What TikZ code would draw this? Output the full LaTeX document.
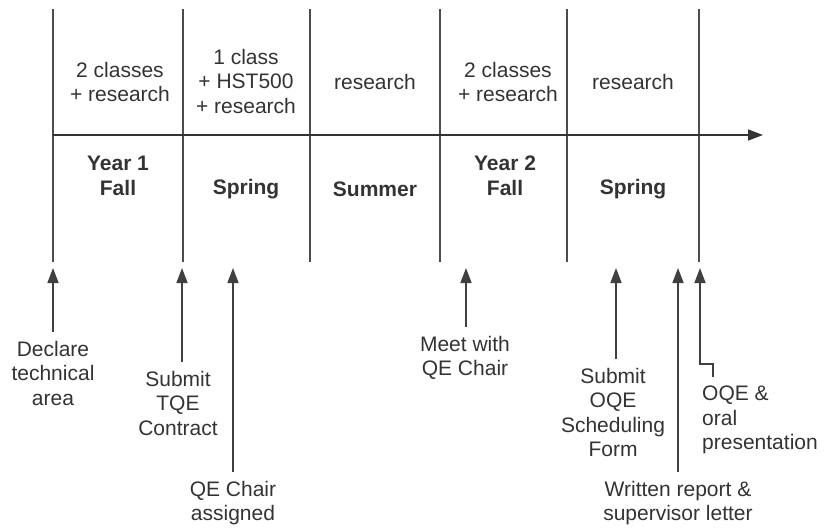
\documentclass[tikz,border=0pt]{standalone}
\usepackage{fontspec}
\setmainfont{Liberation Sans}
\usepackage{tikz}
\usetikzlibrary{positioning,arrows.meta}

\begin{document}
\begin{tikzpicture}[
    x=1pt, y=-1pt,
    font=\fontsize{21}{24.5}\selectfont,
    txt/.style={text=black!80, align=center, inner sep=0pt},
    term/.style={txt, font=\fontsize{21}{24.5}\selectfont\bfseries},
    evt/.style={txt, anchor=north},
    sep/.style={draw=black!70, line width=1.5pt},
    arr/.style={-{Triangle[width=11pt,length=15pt]}, draw=black!75, line width=1.6pt, shorten <=9pt}
  ]
    \useasboundingbox (0,0) rectangle (824,531);
    % term boundaries
    \foreach \x/\n in {53/s0, 183/s1, 310/s2, 440/s3, 567/s4, 699/s5}
      \draw[sep] (\x,9) coordinate (\n) -- (\x,262);
    \draw[arr, draw=black!80, shorten <=0pt] (s0 |- 0,135) -- (763,135);
    % what happens in each term
    \node[txt] (w1) at (120,82) {2 classes\\+ research};
    \node[txt] (w2) at (246,81) {1 class\\+ HST500\\+ research};
    \node[txt] (w3) at (375,82) {research};
    \node[txt] (w4) at (508,82) {2 classes\\+ research};
    \node[txt] (w5) at (633,82) {research};
    % term names
    \node[term] (p1) at (118,176) {Year 1\\Fall};
    \node[term] (p2) at (246,189) {Spring};
    \node[term] (p3) at (375,189) {Summer};
    \node[term] (p4) at (505,176) {Year 2\\Fall};
    \node[term] (p5) at (633,189) {Spring};
    % milestones
    \foreach \x/\n in {53/t1, 182/t2, 233/t3, 466/t4, 616/t5, 678/t6, 700/t7}
      \coordinate (\n) at (\x,268);
    \node[evt] (declare) at (53,341)  {Declare\\technical\\area};
    \node[evt] (tqe)     at (178,371) {Submit\\TQE\\Contract};
    \node[evt] (chair)   at (233,481) {QE Chair\\assigned};
    \node[evt] (meet)    at (465,336) {Meet with\\QE Chair};
    \node[evt] (form)    at (613,368) {Submit\\OQE\\Scheduling\\Form};
    \node[evt] (report)  at (678,481) {Written report \&\\supervisor letter};
    \node[txt, anchor=north west, align=left] (oqe) at (702,386) {OQE \&\\oral\\presentation};
    \draw[arr] (declare.north -| t1) -- (t1);
    \draw[arr] (tqe.north -| t2) -- (t2);
    \draw[arr] (chair.north -| t3) -- (t3);
    \draw[arr] (meet.north -| t4) -- (t4);
    \draw[arr] (form.north -| t5) -- (t5);
    \draw[arr] (report.north -| t6) -- (t6);
    \draw[arr] ([xshift=11]oqe.north west) -- ++(0,-22) -| (t7);
  \end{tikzpicture}
\end{document}
